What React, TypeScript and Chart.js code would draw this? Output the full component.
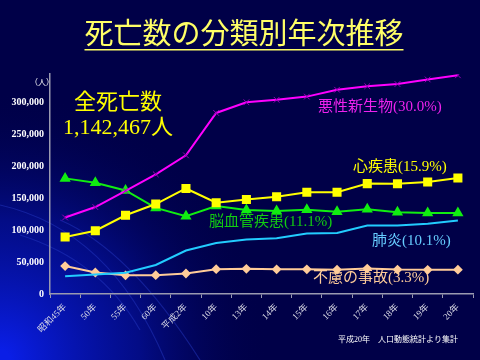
import React, { useEffect, useRef } from "react";
import { Chart, registerables } from "chart.js";

Chart.register(...registerables);

const categories = ["昭和45年", "50年", "55年", "60年", "平成2年", "10年", "13年", "14年", "15年", "16年", "17年", "18年", "19年", "20年"];
const cancer = [119977, 136383, 161764, 187714, 217413, 283921, 300658, 304568, 309543, 320358, 325941, 329314, 336468, 342963];
const heart = [89411, 99226, 123505, 141097, 165478, 143120, 148292, 152518, 159545, 159625, 173125, 173024, 175539, 181928];
const stroke = [181315, 174367, 162317, 134994, 121944, 137819, 131856, 130257, 132067, 129055, 132847, 128268, 127041, 127023];
const pneumonia = [28000, 30500, 33500, 45500, 68194, 79952, 85305, 87421, 94942, 95534, 107241, 107242, 110159, 115317];
const accident = [43802, 33710, 29217, 29597, 32122, 38925, 39496, 38643, 38714, 38193, 39863, 38270, 37966, 38153];
const yTicks = [0, 50000, 100000, 150000, 200000, 250000, 300000];

const JP = '"Liberation Serif", "Noto Sans CJK JP", serif';

const bgPlugin = {
  id: "bg",
  beforeDraw(chart: any) {
    const ctx = chart.ctx;
    const w = chart.width, h = chart.height;
    ctx.save();
    ctx.fillStyle = "#000048";
    ctx.fillRect(0, 0, w, h);
    const g = ctx.createRadialGradient(0, h, 10, 0, h, 270);
    g.addColorStop(0, "rgba(10,30,230,1)");
    g.addColorStop(0.5, "rgba(5,20,175,0.6)");
    g.addColorStop(1, "rgba(0,0,72,0)");
    ctx.fillStyle = g;
    ctx.fillRect(0, 0, w, h);
    ctx.strokeStyle = "rgba(40,60,200,0.45)";
    ctx.lineWidth = 1.2;
    ctx.beginPath();
    ctx.moveTo(0, 205);
    ctx.quadraticCurveTo(110, 230, 165, 360);
    ctx.stroke();
    ctx.beginPath();
    ctx.moveTo(20, 235);
    ctx.quadraticCurveTo(100, 260, 140, 330);
    ctx.stroke();
    ctx.beginPath();
    ctx.moveTo(60, 220);
    ctx.quadraticCurveTo(130, 250, 200, 360);
    ctx.stroke();
    ctx.restore();
  },
};

const textPlugin = {
  id: "texts",
  afterDraw(chart: any) {
    const ctx = chart.ctx;
    ctx.save();
    ctx.textBaseline = "middle";
    ctx.textAlign = "center";
    ctx.fillStyle = "#ffff66";
    ctx.font = '29px "Noto Sans CJK JP", sans-serif';
    ctx.fillText("死亡数の分類別年次推移", 244, 33);
    const tw = ctx.measureText("死亡数の分類別年次推移").width;
    ctx.fillRect(244 - tw / 2, 49, tw, 1.5);

    ctx.fillStyle = "#ffff00";
    ctx.font = '22px ' + JP;
    ctx.fillText("全死亡数", 118, 103);
    ctx.fillText("1,142,467人", 118, 128);

    ctx.textAlign = "left";
    ctx.font = '15px ' + JP;
    ctx.fillStyle = "#ee22ee";
    ctx.fillText("悪性新生物(30.0%)", 318, 107);
    ctx.fillStyle = "#ffff00";
    ctx.fillText("心疾患(15.9%)", 353, 167);
    ctx.fillStyle = "#11cc11";
    ctx.fillText("脳血管疾患(11.1%)", 209, 222);
    ctx.fillStyle = "#66ccff";
    ctx.fillText("肺炎(10.1%)", 372, 241);
    ctx.fillStyle = "#ffcc99";
    ctx.fillText("不慮の事故(3.3%)", 313, 278);

    ctx.fillStyle = "#ffffff";
    ctx.font = '8px ' + JP;
    ctx.fillText("（人）", 30, 83);
    ctx.font = '8px ' + JP;
    ctx.fillText("平成20年　人口動態統計より集計", 338, 340);
    ctx.restore();
  },
};

export default function App() {
  const ref = useRef<HTMLCanvasElement>(null);
  useEffect(() => {
    const axisColor = "#9a9ab0";
    const chart = new Chart(ref.current as HTMLCanvasElement, {
      type: "line",
      data: {
        labels: categories,
        datasets: [
          {
            label: "悪性新生物",
            data: cancer,
            borderColor: "#ff00ff",
            backgroundColor: "#9900bb",
            pointBorderColor: "#9900bb",
            pointStyle: "crossRot",
            pointRadius: 4,
            borderWidth: 2,
            pointBorderWidth: 1,
          },
          {
            label: "心疾患",
            data: heart,
            borderColor: "#ffff00",
            backgroundColor: "#ffff00",
            pointStyle: "rect",
            pointRadius: 5,
            borderWidth: 2,
          },
          {
            label: "脳血管疾患",
            data: stroke,
            borderColor: "#11ee11",
            backgroundColor: "#11ee11",
            pointStyle: "triangle",
            pointRadius: 4.5,
            borderWidth: 2,
          },
          {
            label: "肺炎",
            data: pneumonia,
            borderColor: "#22ccff",
            backgroundColor: "#22ccff",
            pointRadius: 0,
            borderWidth: 2,
          },
          {
            label: "不慮の事故",
            data: accident,
            borderColor: "#ffcc99",
            backgroundColor: "#ffcc99",
            pointStyle: "rectRot",
            pointRadius: 3.5,
            borderWidth: 2,
          },
        ],
      },
      options: {
        responsive: false,
        animation: false,
        layout: { padding: { left: 0, right: 7, top: 74, bottom: 0 } },
        plugins: { legend: { display: false }, tooltip: { enabled: false } },
        elements: { line: { tension: 0 } },
        scales: {
          x: {
            offset: true,
            grid: { display: true, drawOnChartArea: false, drawTicks: true, tickLength: 4, color: axisColor, offset: true },
            border: { display: true, color: axisColor, width: 1.5 },
            ticks: {
              color: "#dddde8",
              font: { size: 9, family: JP },
              maxRotation: 45,
              minRotation: 45,
              autoSkip: false,
              padding: 4,
            },
            afterFit: (s: any) => { s.height = 66; },
          },
          y: {
            min: 0,
            max: 345000,
            afterBuildTicks: (axis: any) => { axis.ticks = yTicks.map((v) => ({ value: v })); },
            grid: { display: true, drawOnChartArea: false, drawTicks: false },
            border: { display: true, color: axisColor, width: 1.5 },
            ticks: {
              color: "#ffffff",
              font: { size: 10, weight: "bold", family: '"Liberation Serif", serif' },
              padding: 6,
              callback: (v: any) => Number(v).toLocaleString("en-US"),
            },
            afterFit: (s: any) => { s.width = 50; },
          },
        },
      },
      plugins: [bgPlugin, textPlugin],
    });
    return () => chart.destroy();
  }, []);
  return (
    <div style={{ position: "fixed", left: 0, top: 0, width: 480, height: 360 }}>
      <canvas ref={ref} width={480} height={360} />
    </div>
  );
}
